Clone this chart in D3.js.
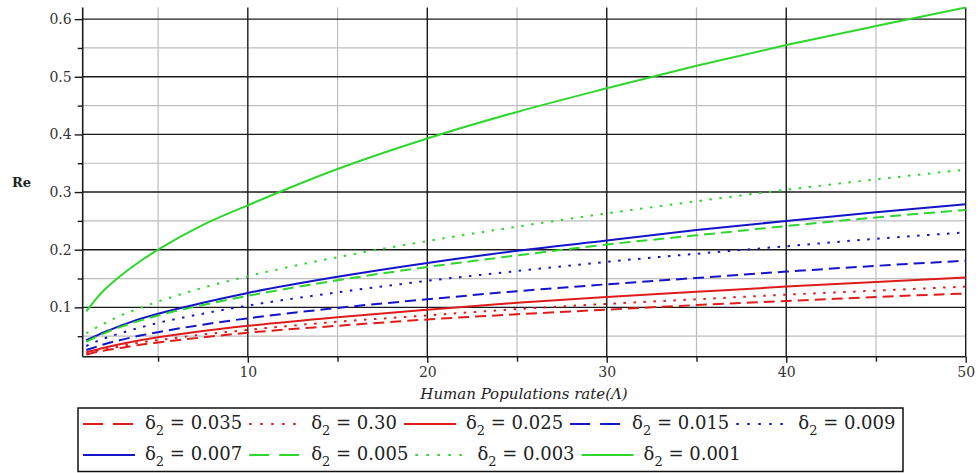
<!DOCTYPE html>
<html>
<head>
<meta charset="utf-8">
<script src="https://cdn.jsdelivr.net/npm/d3@7"></script>
<style>
  body { margin: 0; background: #fff; }
  svg { display: block; }
  svg text { font-family: "DejaVu Serif", "Liberation Serif", serif; }
</style>
</head>
<body>
<script>
// values
const lambdaValues = [1, 1.5, 2, 3, 4, 5, 7.5, 10, 15, 20, 25, 30, 35, 40, 45, 50];

const d035 = [0.018, 0.022, 0.025, 0.030, 0.035, 0.039, 0.048, 0.056, 0.068, 0.079, 0.088, 0.096, 0.104, 0.111, 0.118, 0.124];
const d030 = [0.020, 0.024, 0.027, 0.033, 0.039, 0.043, 0.053, 0.061, 0.075, 0.086, 0.097, 0.106, 0.114, 0.122, 0.129, 0.136];
const d025 = [0.022, 0.026, 0.030, 0.037, 0.043, 0.048, 0.059, 0.068, 0.083, 0.096, 0.108, 0.118, 0.127, 0.136, 0.144, 0.152];
const d015 = [0.026, 0.031, 0.036, 0.044, 0.051, 0.057, 0.070, 0.081, 0.099, 0.114, 0.128, 0.140, 0.151, 0.162, 0.172, 0.181];
const d009 = [0.033, 0.040, 0.046, 0.056, 0.065, 0.073, 0.089, 0.103, 0.126, 0.146, 0.163, 0.179, 0.193, 0.206, 0.219, 0.230];
const d007 = [0.043, 0.050, 0.057, 0.069, 0.080, 0.089, 0.108, 0.125, 0.153, 0.177, 0.198, 0.216, 0.234, 0.250, 0.265, 0.279];
const d005 = [0.040, 0.048, 0.055, 0.067, 0.077, 0.086, 0.104, 0.120, 0.147, 0.170, 0.190, 0.209, 0.225, 0.241, 0.256, 0.269];
const d003 = [0.055, 0.064, 0.072, 0.087, 0.099, 0.110, 0.134, 0.154, 0.187, 0.215, 0.240, 0.263, 0.284, 0.304, 0.322, 0.339];
const d001 = [0.093, 0.113, 0.130, 0.157, 0.180, 0.200, 0.243, 0.277, 0.340, 0.393, 0.439, 0.480, 0.519, 0.555, 0.588, 0.620];

const deltaLabels = ["0.035", "0.30", "0.025", "0.015", "0.009", "0.007", "0.005", "0.003", "0.001"];
const deltaSeries = [d035, d030, d025, d015, d009, d007, d005, d003, d001];
const seriesColors = ["#e01b1b", "#e01b1b", "#e01b1b", "#1414c8", "#1414c8", "#1414c8", "#2ed62e", "#2ed62e", "#2ed62e"];
const seriesStyles = ["dash", "dot", "solid", "dash", "dot", "solid", "dash", "dot", "solid"];

const yMajor = [0.1, 0.2, 0.3, 0.4, 0.5, 0.6];
const yMinor = [0.05, 0.15, 0.25, 0.35, 0.45, 0.55];
const xMajor = [10, 20, 30, 40, 50];
const xMinor = [5, 15, 25, 35, 45];

const width = 978, height = 473;
const margin = {left: 82.7, right: 12.3, top: 7.6, bottom: 116.3};
const innerW = width - margin.left - margin.right;
const innerH = height - margin.top - margin.bottom;

const x = d3.scaleLinear().domain([0.8, 50]).range([0, innerW]);
const y = d3.scaleLinear().domain([0.0144, 0.62]).range([innerH, 0]);

const dashFor = {dash: "11,6", dot: "2.5,7.5", solid: null};
const legendDash = {dash: "20,10", dot: "2.5,8.5", solid: null};

const svg = d3.select("body").append("svg")
    .attr("width", width)
    .attr("height", height);

const g = svg.append("g")
    .attr("transform", `translate(${margin.left},${margin.top})`);

// grid lines
const minor = g.append("g").attr("class", "grid-minor");
minor.selectAll("line.v")
    .data(xMinor).enter().append("line")
    .attr("class", "v")
    .attr("x1", d => x(d)).attr("x2", d => x(d))
    .attr("y1", 0).attr("y2", innerH)
    .attr("stroke", "#bdbdbd").attr("stroke-width", 1.2);
minor.selectAll("line.h")
    .data(yMinor).enter().append("line")
    .attr("class", "h")
    .attr("x1", 0).attr("x2", innerW)
    .attr("y1", d => y(d)).attr("y2", d => y(d))
    .attr("stroke", "#bdbdbd").attr("stroke-width", 1.2);

const major = g.append("g").attr("class", "grid-major");
major.selectAll("line.v")
    .data(xMajor).enter().append("line")
    .attr("class", "v")
    .attr("x1", d => x(d)).attr("x2", d => x(d))
    .attr("y1", 0).attr("y2", innerH)
    .attr("stroke", "#1a1a1a").attr("stroke-width", 1.4);
major.selectAll("line.h")
    .data(yMajor).enter().append("line")
    .attr("class", "h")
    .attr("x1", 0).attr("x2", innerW)
    .attr("y1", d => y(d)).attr("y2", d => y(d))
    .attr("stroke", "#1a1a1a").attr("stroke-width", 1.4);

// axes
function styleAxis(sel){
    sel.attr("font-family", null).attr("font-size", null);
    sel.select(".domain").remove();
    sel.selectAll("line").attr("stroke", "#1a1a1a").attr("stroke-width", 1.4);
    sel.selectAll("text")
        .attr("fill", "#333")
        .style("font-size", "14px");
}

g.append("g")
    .call(d3.axisLeft(y).tickValues(yMajor).tickSize(8).tickPadding(3).tickFormat(d3.format(".1f")))
    .call(styleAxis);
g.append("g")
    .call(d3.axisLeft(y).tickValues(yMinor).tickSize(5).tickFormat(""))
    .call(styleAxis);

g.append("g")
    .attr("transform", `translate(0,${innerH})`)
    .call(d3.axisBottom(x).tickValues(xMajor).tickSize(6).tickPadding(4).tickFormat(d3.format("d")))
    .call(styleAxis);
g.append("g")
    .attr("transform", `translate(0,${innerH})`)
    .call(d3.axisBottom(x).tickValues(xMinor).tickSize(5).tickFormat(""))
    .call(styleAxis);

// axis lines
g.append("line")
    .attr("x1", 0).attr("x2", 0).attr("y1", 0).attr("y2", innerH)
    .attr("stroke", "#1a1a1a").attr("stroke-width", 1.6);
g.append("line")
    .attr("x1", 0).attr("x2", innerW).attr("y1", innerH).attr("y2", innerH)
    .attr("stroke", "#1a1a1a").attr("stroke-width", 1.6);

// curves
const line = d3.line()
    .x((d, i) => x(lambdaValues[i]))
    .y(d => y(d))
    .curve(d3.curveMonotoneX);

g.append("g")
    .selectAll("path")
    .data(deltaSeries)
    .enter().append("path")
    .attr("d", d => line(d))
    .attr("fill", "none")
    .attr("stroke", (d, i) => seriesColors[i])
    .attr("stroke-width", 2)
    .attr("stroke-dasharray", (d, i) => dashFor[seriesStyles[i]]);

// labels
svg.append("text")
    .attr("x", 12).attr("y", 187)
    .attr("fill", "#222")
    .style("font-size", "13px")
    .style("font-weight", "bold")
    .text("Re");

svg.append("text")
    .attr("x", 524).attr("y", 399)
    .attr("text-anchor", "middle")
    .attr("fill", "#222")
    .style("font-size", "15px")
    .style("font-style", "italic")
    .text("Human Populations rate(Λ)");

// legend
const legend = svg.append("g").attr("class", "legend");
legend.append("rect")
    .attr("x", 78).attr("y", 408)
    .attr("width", 825).attr("height", 63.5)
    .attr("fill", "#fff")
    .attr("stroke", "#111").attr("stroke-width", 1.5);

const rowBreak = 5;
let cx = 83;
deltaLabels.forEach((lab, i) => {
    if (i === rowBreak) cx = 83;
    const rowY = i < rowBreak ? 424 : 455;
    const item = legend.append("g");
    item.append("line")
        .attr("x1", cx).attr("x2", cx + 52)
        .attr("y1", rowY).attr("y2", rowY)
        .attr("stroke", seriesColors[i])
        .attr("stroke-width", 2.2)
        .attr("stroke-dasharray", legendDash[seriesStyles[i]]);
    const t = item.append("text")
        .attr("x", cx + 62).attr("y", rowY + 5)
        .attr("fill", "#222")
        .style("font-size", "18px");
    t.append("tspan").text("δ");
    t.append("tspan").attr("dy", 6).style("font-size", "13px").text("2");
    t.append("tspan").attr("dy", -6).text(" = " + lab);
    const w = t.node().getComputedTextLength();
    cx = cx + 62 + w + 7;
});
</script>
</body>
</html>
